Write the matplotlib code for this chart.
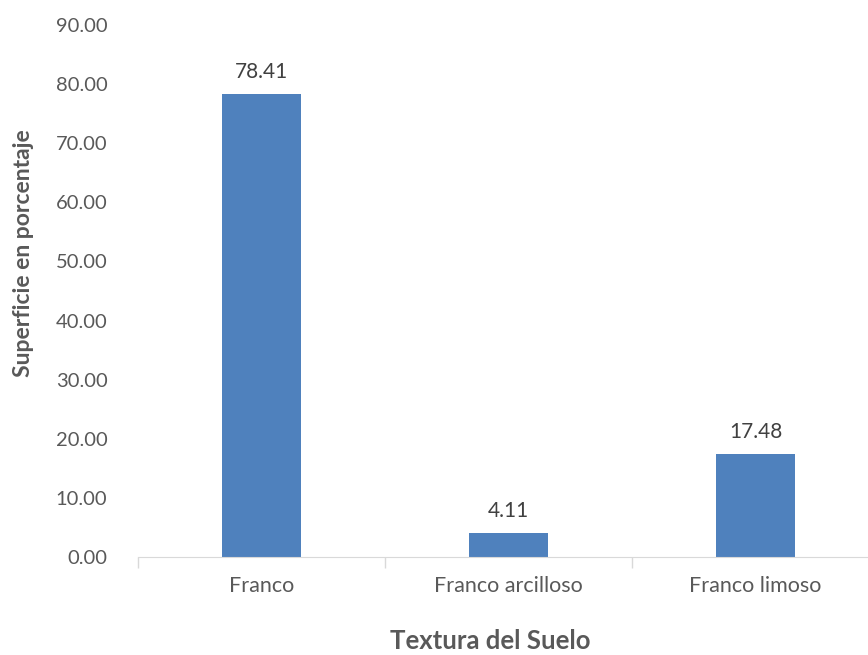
import matplotlib.pyplot as plt

# Soil texture share of surface area (%)
texturas = ["Franco", "Franco arcilloso", "Franco limoso"]
porcentajes = [78.41, 4.11, 17.48]
yticks = [0, 10, 20, 30, 40, 50, 60, 70, 80, 90]

plt.rcParams["font.family"] = ["Lato", "DejaVu Sans"]
gray = "#595959"

fig = plt.figure(figsize=(8.68, 6.55), dpi=100)
ax = fig.add_axes([0.159, 0.1496, 0.8537, 0.8122])

x = range(len(texturas))
bars = ax.bar(x, porcentajes, width=0.316, color="#4F81BD", zorder=2)
for b, v in zip(bars, porcentajes):
    ax.text(b.get_x() + b.get_width() / 2, v + 2.0, f"{v:.2f}",
            ha="center", va="bottom", fontsize=15, color="#404040")

ax.set_xlim(-0.5, 2.5)
ax.set_ylim(0, 90)
ax.set_yticks(yticks)
ax.set_yticklabels([f"{t:.2f}" for t in yticks], fontsize=14.5, color=gray)
ax.set_xticks(list(x))
ax.set_xticklabels(texturas, fontsize=15.5, color=gray)
ax.tick_params(axis="y", length=0, pad=22)
ax.tick_params(axis="x", length=0, pad=14)

# category separators on the x axis
ax.set_xticks([-0.5, 0.5, 1.5, 2.5], minor=True)
ax.tick_params(axis="x", which="minor", length=8, color="#D9D9D9", width=1)

for s in ["top", "right", "left"]:
    ax.spines[s].set_visible(False)
ax.spines["bottom"].set_color("#D9D9D9")

ax.set_ylabel("Superficie en porcentaje", fontsize=16.5, fontweight="bold",
              color=gray)
ax.set_xlabel("Textura del Suelo", fontsize=18.5, fontweight="bold",
              color=gray)
ax.yaxis.set_label_coords(-0.141, 0.571)
ax.xaxis.set_label_coords(0.476, -0.135)

fig.savefig("out.png", dpi=100)
